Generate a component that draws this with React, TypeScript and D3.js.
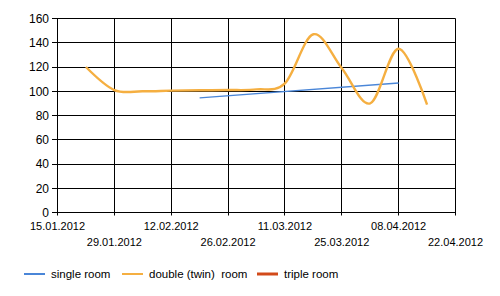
import React from "react";
import * as d3 from "d3";

const tickDates = ["2012-01-15","2012-01-29","2012-02-12","2012-02-26","2012-03-11","2012-03-25","2012-04-08","2012-04-22"];
const tickLabels = ["15.01.2012","29.01.2012","12.02.2012","26.02.2012","11.03.2012","25.03.2012","08.04.2012","22.04.2012"];
const yTicks = [0,20,40,60,80,100,120,140,160];

const doubleDates = ["2012-01-22","2012-01-29","2012-02-05","2012-02-12","2012-02-19","2012-02-26","2012-03-04","2012-03-11","2012-03-18","2012-03-25","2012-04-01","2012-04-08","2012-04-15"];
const doubleValues = [120,101,100,100.5,100.8,101,101.5,106.5,147,119,90,135,89];
const singleDates = ["2012-02-19","2012-04-08"];
const singleValues = [94.5,106.8];
const tripleDates: string[] = [];
const tripleValues: number[] = [];

const seriesNames = ["single room","double (twin)  room","triple room"];
const seriesColors = ["#4a86d8","#f5af41","#d24a1a"];

const parse = (s: string) => new Date(s + "T00:00:00Z");

export default function App() {
  const W = 500, H = 296;
  const x = d3.scaleUtc().domain([parse("2012-01-15"), parse("2012-04-22")]).range([57.5, 455.5]);
  const y = d3.scaleLinear().domain([0, 160]).range([212.5, 18.5]);
  const line = d3.line<[Date, number]>()
    .x(d => x(d[0]))
    .y(d => y(d[1]))
    .curve(d3.curveCardinal.tension(0));
  const mk = (ds: string[], vs: number[]) => ds.map((d, i) => [parse(d), vs[i]] as [Date, number]);
  const series = [mk(singleDates, singleValues), mk(doubleDates, doubleValues), mk(tripleDates, tripleValues)];
  const widths = [1.4, 2.4, 2.4];
  const font = "'Liberation Sans', Arial, sans-serif";
  const legendX = [24, 122, 257];
  const px = (v: number) => Math.round(v - 0.5) + 0.5;

  return (
    <svg width={W} height={H} style={{ position: "absolute", left: 0, top: 0, background: "#fff" }}>
      <rect x={0} y={0} width={W} height={H} fill="#fff" />
      {yTicks.map(t => (
        <line key={"gy" + t} x1={52} x2={455.5} y1={px(y(t))} y2={px(y(t))} stroke="#000" strokeWidth={1} />
      ))}
      {tickDates.map(t => (
        <line key={"gx" + t} x1={px(x(parse(t)))} x2={px(x(parse(t)))} y1={18.5} y2={215.5} stroke="#000" strokeWidth={1} />
      ))}
      {yTicks.map(t => (
        <text key={"yl" + t} x={49} y={y(t)} dy="0.36em" textAnchor="end" fontFamily={font} fontSize={12} fill="#000">{t}</text>
      ))}
      {tickDates.map((t, i) => (
        <text key={"xl" + t} x={x(parse(t))} y={i % 2 === 0 ? 230 : 245.5} textAnchor="middle" fontFamily={font} fontSize={11} fill="#000">{tickLabels[i]}</text>
      ))}
      {series.map((s, i) => s.length > 1 ? (
        <path key={"s" + i} d={line(s) || ""} fill="none" stroke={seriesColors[i]} strokeWidth={widths[i]} />
      ) : null)}
      {seriesNames.map((n, i) => (
        <g key={"lg" + i}>
          <line x1={legendX[i]} x2={legendX[i] + 21} y1={274} y2={274} stroke={seriesColors[i]} strokeWidth={i === 2 ? 3 : 2} />
          <text x={legendX[i] + 27} y={278} fontFamily={font} fontSize={11.5} fill="#000" style={{ whiteSpace: "pre" }}>{n}</text>
        </g>
      ))}
    </svg>
  );
}
